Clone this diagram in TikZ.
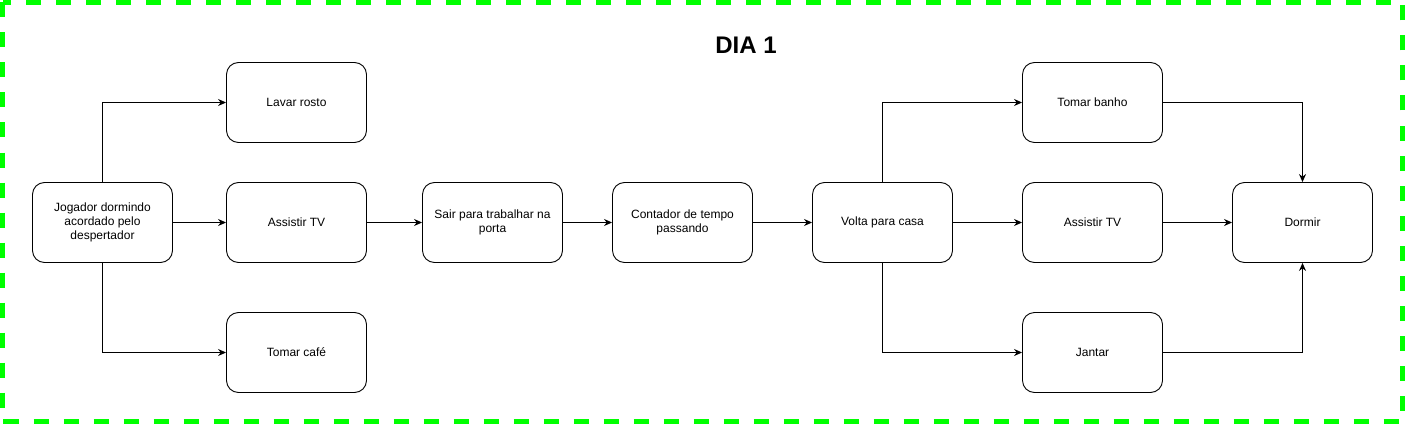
\documentclass[tikz,border=0pt]{standalone}
\usepackage{fontspec}
\setmainfont{Liberation Sans}
\usetikzlibrary{arrows.meta}

\begin{document}
\begin{tikzpicture}[x=1pt, y=-1pt,
    stepbox/.style={draw, rounded corners=12pt, minimum width=140pt, minimum height=80pt, align=center, font=\fontsize{12}{14}\selectfont, line width=0.9pt},
    flow/.style={-{Stealth[length=8pt,width=7pt]}, line width=0.9pt}]

    % Frame
    \useasboundingbox (0, 0) rectangle (1405, 425);
    \draw[green!90!black, color={rgb,255:red,0;green,255;blue,0}, line width=5pt, dash pattern=on 15pt off 15pt] (2.5, 2.5) rectangle (1402.5, 421.5);
    \node[font=\fontsize{24}{28}\selectfont\bfseries] at (746, 45) (title) {DIA 1};

    % Declare the steps
    \node[stepbox] at (102.5, 222.5) (acorda) {Jogador dormindo\\acordado pelo\\despertador};
    \node[stepbox] at (296.5, 102.5) (rosto) {Lavar rosto};
    \node[stepbox] at (296.5, 222.5) (tv1) {Assistir TV};
    \node[stepbox] at (296.5, 352.5) (cafe) {Tomar café};
    \node[stepbox] at (492.5, 222.5) (sair) {Sair para trabalhar na\\porta};
    \node[stepbox] at (682.5, 222.5) (tempo) {Contador de tempo\\passando};
    \node[stepbox] at (882.5, 222.5) (volta) {Volta para casa};
    \node[stepbox] at (1092.5, 102.5) (banho) {Tomar banho};
    \node[stepbox] at (1092.5, 222.5) (tv2) {Assistir TV};
    \node[stepbox] at (1092.5, 352.5) (jantar) {Jantar};
    \node[stepbox] at (1302.5, 222.5) (dormir) {Dormir};

    % Declare edges
    \draw[flow] (acorda.north) |- (rosto.west);
    \draw[flow] (acorda) -- (tv1);
    \draw[flow] (acorda.south) |- (cafe.west);
    \draw[flow] (tv1) -- (sair);
    \draw[flow] (sair) -- (tempo);
    \draw[flow] (tempo) -- (volta);
    \draw[flow] (volta.north) |- (banho.west);
    \draw[flow] (volta) -- (tv2);
    \draw[flow] (volta.south) |- (jantar.west);
    \draw[flow] (banho.east) -| (dormir.north);
    \draw[flow] (tv2) -- (dormir);
    \draw[flow] (jantar.east) -| (dormir.south);

\end{tikzpicture}
\end{document}
